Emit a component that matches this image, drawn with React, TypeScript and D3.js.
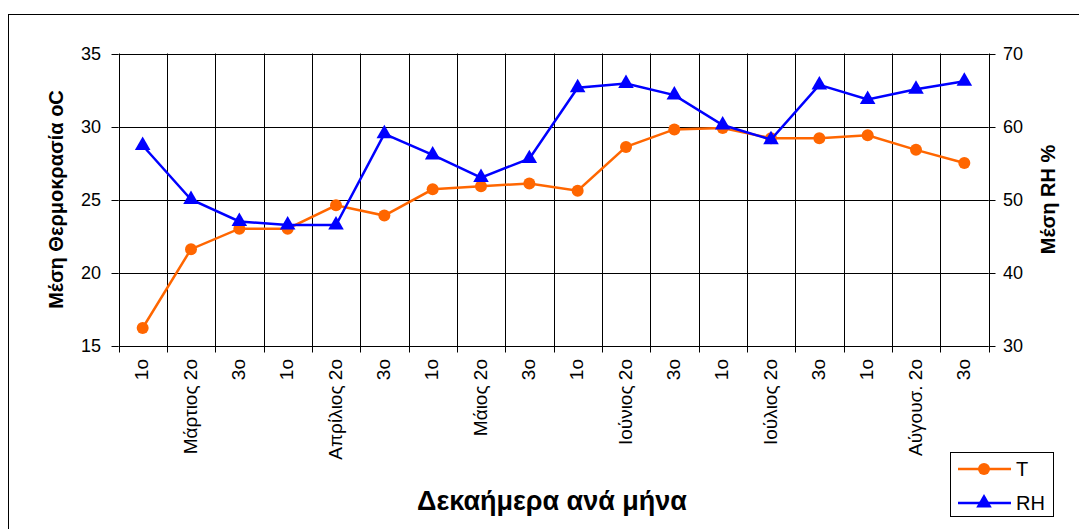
import React from "react";
import * as d3 from "d3";

const categories = ["1ο", "Μάρτιος 2ο", "3ο", "1ο", "Απρίλιος 2ο", "3ο", "1ο", "Μάιος 2ο", "3ο", "1ο", "Ιούνιος 2ο", "3ο", "1ο", "Ιούλιος 2ο", "3ο", "1ο", "Αύγουσ. 2ο", "3ο"];
const tempValues = [16.2, 21.6, 23.0, 23.0, 24.6, 23.9, 25.7, 25.9, 26.1, 25.6, 28.6, 29.8, 29.9, 29.2, 29.2, 29.4, 28.4, 27.5];
const rhValues = [57.4, 50.0, 47.0, 46.5, 46.5, 59.0, 56.1, 53.0, 55.6, 65.3, 65.9, 64.3, 60.2, 58.2, 65.7, 63.7, 65.1, 66.2];
const leftTicks = [15, 20, 25, 30, 35];
const rightTicks = [30, 40, 50, 60, 70];

const FONT = "'Liberation Sans', Arial, sans-serif";
const ORANGE = "#FF6600";
const BLUE = "#0000FF";

export default function App() {
  const W = 1079, H = 529;
  const left = 118.5, right = 988.5, top = 53.5, bottom = 345.5;
  const idx = categories.map((_, i) => i);
  const x = d3.scaleBand<number>().domain(idx).range([left, right]).paddingInner(0).paddingOuter(0);
  const yL = d3.scaleLinear().domain([15, 35]).range([bottom, top]);
  const yR = d3.scaleLinear().domain([30, 70]).range([bottom, top]);
  const cx = (i: number) => (x(i) as number) + x.bandwidth() / 2;

  const tLine = d3.line<number>().x((_, i) => cx(i)).y((d) => yL(d))(tempValues) || "";
  const rhLine = d3.line<number>().x((_, i) => cx(i)).y((d) => yR(d))(rhValues) || "";
  const tri = d3.symbol().type(d3.symbolTriangle).size(105)() || "";

  const boundaries = d3.range(categories.length + 1).map((i) => left + i * x.bandwidth());

  return (
    <svg width={W} height={H} style={{ position: "absolute", left: 0, top: 0, background: "#fff" }} fontFamily={FONT}>
      <rect x={8.5} y={14.5} width={1200} height={600} fill="#fff" stroke="#000" strokeWidth={1} />
      {/* horizontal grid */}
      {leftTicks.map((t) => (
        <line key={"h" + t} x1={left} x2={right} y1={Math.round(yL(t)) + 0.5} y2={Math.round(yL(t)) + 0.5} stroke="#000" strokeWidth={1} />
      ))}
      {/* vertical grid + x ticks */}
      {boundaries.map((b, i) => (
        <line key={"v" + i} x1={Math.round(b) + 0.5} x2={Math.round(b) + 0.5} y1={top} y2={bottom + 7} stroke="#000" strokeWidth={1} />
      ))}
      {/* left ticks */}
      {leftTicks.map((t) => (
        <g key={"lt" + t}>
          <line x1={left - 7} x2={left} y1={Math.round(yL(t)) + 0.5} y2={Math.round(yL(t)) + 0.5} stroke="#000" />
          <text x={101} y={yL(t)} dy="0.35em" textAnchor="end" fontSize={18} fill="#000">{t}</text>
        </g>
      ))}
      {/* right ticks */}
      {rightTicks.map((t) => (
        <g key={"rt" + t}>
          <line x1={right} x2={right + 7} y1={Math.round(yR(t)) + 0.5} y2={Math.round(yR(t)) + 0.5} stroke="#000" />
          <text x={1003} y={yR(t)} dy="0.35em" textAnchor="start" fontSize={18} fill="#000">{t}</text>
        </g>
      ))}
      {/* x tick labels */}
      {categories.map((c, i) => (
        <text key={"xl" + i} transform={`translate(${cx(i) - 1},${359}) rotate(-90)`} textAnchor="end" dy="0.35em" fontSize={19} fill="#000">{c}</text>
      ))}
      {/* series */}
      <path d={tLine} fill="none" stroke={ORANGE} strokeWidth={2.5} />
      {tempValues.map((v, i) => (
        <circle key={"tc" + i} cx={cx(i)} cy={yL(v)} r={6} fill={ORANGE} />
      ))}
      <path d={rhLine} fill="none" stroke={BLUE} strokeWidth={2.5} />
      {rhValues.map((v, i) => (
        <path key={"rh" + i} d={tri} transform={`translate(${cx(i)},${yR(v)})`} fill={BLUE} />
      ))}
      {/* axis titles */}
      <text transform={`translate(63,${(top + bottom) / 2}) rotate(-90)`} textAnchor="middle" fontSize={20} fontWeight="bold" fill="#000">Μέση Θερμοκρασία oC</text>
      <text transform={`translate(1055,${(top + bottom) / 2}) rotate(-90)`} textAnchor="middle" fontSize={20} fontWeight="bold" fill="#000">Μέση RH %</text>
      <text x={552} y={510} textAnchor="middle" fontSize={27} fontWeight="bold" fill="#000">Δεκαήμερα ανά μήνα</text>
      {/* legend */}
      <rect x={950.5} y={452.5} width={103} height={64} fill="#fff" stroke="#000" strokeWidth={1} />
      <line x1={958} x2={1011} y1={469} y2={469} stroke={ORANGE} strokeWidth={2.5} />
      <circle cx={984} cy={469} r={6} fill={ORANGE} />
      <text x={1016} y={469} dy="0.35em" fontSize={20} fill="#000">T</text>
      <line x1={958} x2={1011} y1={503} y2={503} stroke={BLUE} strokeWidth={2.5} />
      <path d={tri} transform="translate(984,503)" fill={BLUE} />
      <text x={1016} y={503} dy="0.35em" fontSize={20} fill="#000">RH</text>
    </svg>
  );
}
